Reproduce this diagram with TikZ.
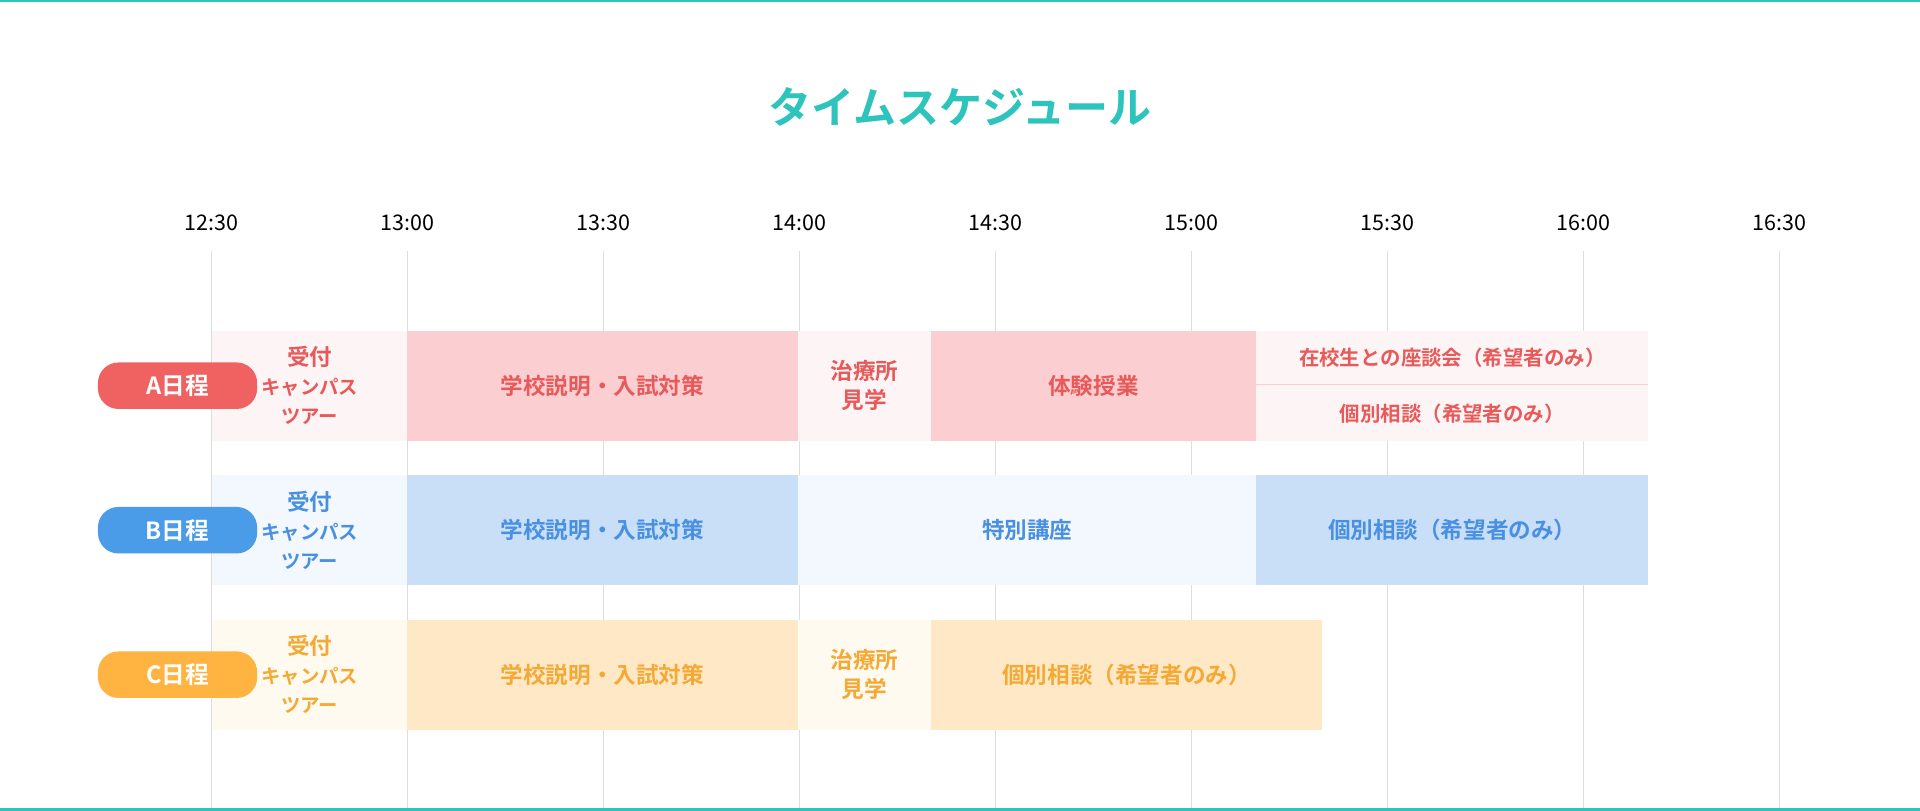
\documentclass[tikz,border=0pt]{standalone}
\usepackage{fontspec}
\setmainfont{Noto Sans CJK JP}[BoldFont={Noto Sans CJK JP Bold}]
\usepackage{tikz}
\definecolor{teal}{HTML}{2CC4BC}
\definecolor{gridc}{HTML}{DDDDDD}
\definecolor{redA}{HTML}{F06262}
\definecolor{redT}{HTML}{E85A5A}
\definecolor{redD}{HTML}{FBCFD1}
\definecolor{redL}{HTML}{FDF5F5}
\definecolor{bluA}{HTML}{4A9BE8}
\definecolor{bluT}{HTML}{4A90E2}
\definecolor{bluD}{HTML}{C9DFF8}
\definecolor{bluL}{HTML}{F3F8FE}
\definecolor{oraA}{HTML}{FFB340}
\definecolor{oraT}{HTML}{F5A935}
\definecolor{oraD}{HTML}{FFE8C6}
\definecolor{oraL}{HTML}{FFFAF0}
\tikzset{
  pill/.style={rounded corners=9.5pt, minimum width=2.6cm, minimum height=0.76cm,
    text=white, font=\bfseries\fontsize{11}{13}\selectfont, inner sep=0pt},
  blk/.style={inner sep=0pt, align=center, font=\bfseries\fontsize{10.5}{13.5}\selectfont},
  small/.style={font=\bfseries\fontsize{9.5}{12.5}\selectfont},
}
\begin{document}
\begin{tikzpicture}[x=0.02cm,y=-0.02cm]
\useasboundingbox (0,0) rectangle (1568,662);
\fill[white] (0,0) rectangle (1568,662);
\draw[teal,line width=1.5pt] (0,0) -- (1568,0);
\draw[teal,line width=1.5pt] (0,661) -- (1568,661);
\node[text=teal,font=\bfseries\fontsize{20}{24}\selectfont] (title) at (784,87) {タイムスケジュール};
% time axis
\foreach \t [count=\k from 0] in {12:30,13:00,13:30,14:00,14:30,15:00,15:30,16:00,16:30}{
  \node[font=\fontsize{10}{12}\selectfont] (t\k) at (173+160*\k,182) {\t};
  \draw[gridc,line width=0.6pt] (173+160*\k,205) -- (173+160*\k,660);
}
% A
\fill[redL] (173,270) rectangle (332,360);
\fill[redD] (332,270) rectangle (652,360);
\fill[redL] (652,270) rectangle (760,360);
\fill[redD] (760,270) rectangle (1026,360);
\fill[redL] (1026,270) rectangle (1346,360);
\draw[redD,line width=0.8pt] (1026,314) -- (1346,314);
\node[blk,text=redT] (a1) at (253,315) {受付\\{\small キャンパス}\\{\small ツアー}};
\node[blk,text=redT] (a2) at (492,315) {学校説明・入試対策};
\node[blk,text=redT] (a3) at (706,315) {治療所\\見学};
\node[blk,text=redT] (a4) at (893,315) {体験授業};
\node[blk,small,text=redT] (a5) at (1186,292) {在校生との座談会（希望者のみ）};
\node[blk,small,text=redT] (a6) at (1186,338) {個別相談（希望者のみ）};
\node[pill,fill=redA] (A) at (145,315) {A日程};
% B
\fill[bluL] (173,388) rectangle (332,478);
\fill[bluD] (332,388) rectangle (652,478);
\fill[bluL] (652,388) rectangle (1026,478);
\fill[bluD] (1026,388) rectangle (1346,478);
\node[blk,text=bluT] (b1) at (253,433) {受付\\{\small キャンパス}\\{\small ツアー}};
\node[blk,text=bluT] (b2) at (492,433) {学校説明・入試対策};
\node[blk,text=bluT] (b3) at (839,433) {特別講座};
\node[blk,text=bluT] (b4) at (1186,433) {個別相談（希望者のみ）};
\node[pill,fill=bluA] (B) at (145,433) {B日程};
% C
\fill[oraL] (173,506) rectangle (332,596);
\fill[oraD] (332,506) rectangle (652,596);
\fill[oraL] (652,506) rectangle (760,596);
\fill[oraD] (760,506) rectangle (1080,596);
\node[blk,text=oraT] (c1) at (253,551) {受付\\{\small キャンパス}\\{\small ツアー}};
\node[blk,text=oraT] (c2) at (492,551) {学校説明・入試対策};
\node[blk,text=oraT] (c3) at (706,551) {治療所\\見学};
\node[blk,text=oraT] (c4) at (920,551) {個別相談（希望者のみ）};
\node[pill,fill=oraA] (C) at (145,551) {C日程};
\end{tikzpicture}
\end{document}
